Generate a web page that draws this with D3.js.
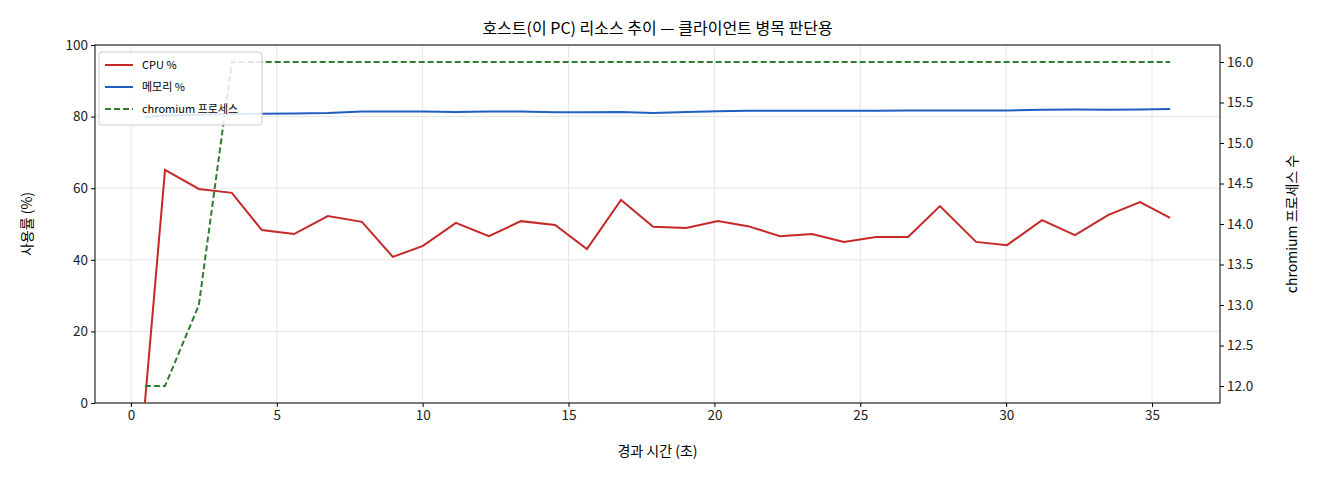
<!DOCTYPE html>
<html><head><meta charset="utf-8">
<script src="https://cdn.jsdelivr.net/npm/d3@7"></script>
<style>body{margin:0;background:#fff;font-family:"Noto Sans CJK KR","DejaVu Sans",sans-serif;}</style>
</head><body><svg id="c" width="1320" height="480"></svg>
<script>
const times=[0.48,1.17,2.33,3.46,4.49,5.59,6.75,7.92,8.98,10.01,11.14,12.27,13.37,14.54,15.63,16.8,17.9,19.03,20.12,21.15,22.25,23.35,24.44,25.54,26.64,27.73,28.97,30.03,31.23,32.36,33.49,34.59,35.62];
const cpu=[0,65.1,59.8,58.7,48.3,47.2,52.2,50.6,40.8,43.9,50.3,46.6,50.8,49.7,43,56.7,49.2,48.9,50.8,49.4,46.6,47.2,45,46.4,46.4,55,45,44.1,51.1,46.9,52.5,56.1,51.7];
const mem=[79.8,80.3,80.5,80.7,80.8,80.9,81.0,81.4,81.4,81.4,81.3,81.4,81.4,81.2,81.2,81.3,81.0,81.3,81.5,81.6,81.6,81.6,81.6,81.6,81.7,81.7,81.7,81.7,81.9,82.0,81.9,82.0,82.1];
const procs=[12,12,13,16,16,16,16,16,16,16,16,16,16,16,16,16,16,16,16,16,16,16,16,16,16,16,16,16,16,16,16,16,16];
const xTicks=[0,5,10,15,20,25,30,35];
const yTicks=[0,20,40,60,80,100];
const y2Ticks=[12,12.5,13,13.5,14,14.5,15,15.5,16];
const L=95,R=1220,T=45,B=403;
const svg=d3.select("#c");
const x=d3.scaleLinear().domain([-1.23,37.33]).range([L,R]);
const y=d3.scaleLinear().domain([0,100]).range([B,T]);
const y2=d3.scaleLinear().domain([12-17/81,16+17/81]).range([B,T]);
svg.append("defs").append("clipPath").attr("id","cp").append("rect").attr("x",L).attr("y",T).attr("width",R-L).attr("height",B-T);
const g=svg.append("g");
xTicks.forEach(t=>g.append("line").attr("x1",x(t)).attr("x2",x(t)).attr("y1",T).attr("y2",B).attr("stroke","#e6e6e6"));
yTicks.forEach(t=>g.append("line").attr("x1",L).attr("x2",R).attr("y1",y(t)).attr("y2",y(t)).attr("stroke","#e6e6e6"));
const ax=svg.append("g").attr("transform",`translate(0,${B})`).call(d3.axisBottom(x).tickValues(xTicks).tickSize(4).tickFormat(d3.format("d")));
const ay=svg.append("g").attr("transform",`translate(${L},0)`).call(d3.axisLeft(y).tickValues(yTicks).tickSize(4));
const ay2=svg.append("g").attr("transform",`translate(${R},0)`).call(d3.axisRight(y2).tickValues(y2Ticks).tickSize(4).tickFormat(d3.format(".1f")));
[ax,ay,ay2].forEach(a=>{a.select(".domain").remove();a.selectAll("text").attr("font-size",13.5).attr("fill","#222").attr("font-family","Noto Sans CJK KR");});
svg.append("rect").attr("x",L).attr("y",T).attr("width",R-L).attr("height",B-T).attr("fill","none").attr("stroke","#000");
const pl=svg.append("g").attr("clip-path","url(#cp)");
const line=(ys,sc)=>d3.line().x((d,i)=>x(times[i])).y(d=>sc(d))(ys);
pl.append("path").attr("d",line(mem,y)).attr("fill","none").attr("stroke","#1f5fbf").attr("stroke-width",2);
pl.append("path").attr("d",line(cpu,y)).attr("fill","none").attr("stroke","#c62828").attr("stroke-width",2);
pl.append("path").attr("d",line(procs,y2)).attr("fill","none").attr("stroke","#2e7d32").attr("stroke-width",2).attr("stroke-dasharray","6,3");
svg.append("text").attr("x",(L+R)/2).attr("y",34).attr("text-anchor","middle").attr("font-size",16).text("호스트(이 PC) 리소스 추이 — 클라이언트 병목 판단용");
svg.append("text").attr("x",(L+R)/2).attr("y",456).attr("text-anchor","middle").attr("font-size",14).text("경과 시간 (초)");
svg.append("text").attr("transform",`translate(32,${(T+B)/2}) rotate(-90)`).attr("text-anchor","middle").attr("font-size",14).text("사용률 (%)");
svg.append("text").attr("transform",`translate(1297,${(T+B)/2}) rotate(-90)`).attr("text-anchor","middle").attr("font-size",14).text("chromium 프로세스 수");
const lg=svg.append("g");
lg.append("rect").attr("x",99).attr("y",52).attr("width",163).attr("height",73).attr("fill","#fff").attr("fill-opacity",0.85).attr("stroke","#ccc").attr("rx",3);
[["CPU %","#c62828",null],["메모리 %","#1f5fbf",null],["chromium 프로세스","#2e7d32","6,3"]].forEach((d,i)=>{
 const yy=65+i*22;
 lg.append("line").attr("x1",105).attr("x2",133).attr("y1",yy).attr("y2",yy).attr("stroke",d[1]).attr("stroke-width",2).attr("stroke-dasharray",d[2]);
 lg.append("text").attr("x",142).attr("y",yy+4).attr("font-size",11).text(d[0]);
});
</script></body></html>
